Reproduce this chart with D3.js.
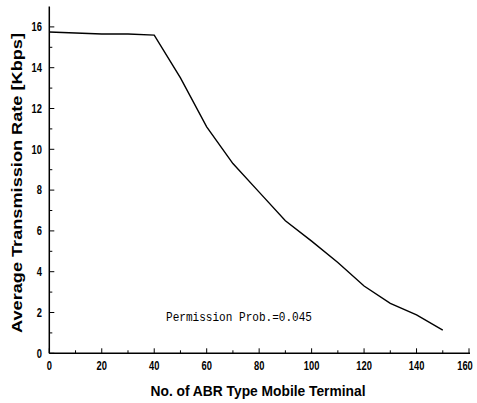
<!DOCTYPE html>
<html>
<head>
<meta charset="utf-8">
<script src="https://cdn.jsdelivr.net/npm/d3@7"></script>
<style>
  body { margin: 0; background: #fff; }
  svg { display: block; }
</style>
</head>
<body>
<svg id="svg" width="477" height="403"></svg>
<script>
const terminals = [0, 10, 20, 30, 40, 50, 60, 70, 80, 90, 100, 110, 120, 130, 140, 150];
const rates = [15.75, 15.7, 15.65, 15.65, 15.6, 13.5, 11.1, 9.3, 7.9, 6.5, 5.5, 4.45, 3.3, 2.45, 1.88, 1.14];
const xTicks = [0, 20, 40, 60, 80, 100, 120, 140, 160];
const yTicks = [0, 2, 4, 6, 8, 10, 12, 14, 16];
const note = "Permission Prob.=0.045";

const svg = d3.select("#svg");
const x = d3.scaleLinear().domain([0, 160]).range([49.3, 469]);
const y = d3.scaleLinear().domain([0, 17]).range([353.3, 6.5]);

const tickFont = "'Liberation Sans', Arial, sans-serif";
const digitW = 5.2; // condensed digits

// axes lines
svg.append("line")
  .attr("x1", x(0)).attr("x2", x(0))
  .attr("y1", y(17)).attr("y2", y(0))
  .attr("stroke", "#000").attr("stroke-width", 1.5);
svg.append("line")
  .attr("x1", x(0)).attr("x2", x(160) + 1)
  .attr("y1", y(0)).attr("y2", y(0))
  .attr("stroke", "#000").attr("stroke-width", 1.5);

// x ticks (inward)
svg.append("g")
  .selectAll("line")
  .data(d3.range(0, 161, 10))
  .join("line")
  .attr("x1", d => x(d)).attr("x2", d => x(d))
  .attr("y1", y(0))
  .attr("y2", d => y(0) - (d % 20 === 0 ? 5 : 3))
  .attr("stroke", "#000").attr("stroke-width", 1);

// last label sits against the right edge, so keep it inside the frame
svg.append("g")
  .selectAll("text")
  .data(xTicks)
  .join("text")
  .attr("x", d => Math.min(x(d), 465))
  .attr("y", 370)
  .attr("text-anchor", "middle")
  .attr("font-family", tickFont)
  .attr("font-weight", "bold")
  .attr("font-size", 12)
  .attr("textLength", d => String(d).length * digitW)
  .attr("lengthAdjust", "spacingAndGlyphs")
  .text(d => d);

// y ticks (inward)
svg.append("g")
  .selectAll("line")
  .data(d3.range(0, 17, 1))
  .join("line")
  .attr("x1", x(0))
  .attr("x2", d => x(0) + (d % 2 === 0 ? 5 : 3))
  .attr("y1", d => y(d)).attr("y2", d => y(d))
  .attr("stroke", "#000").attr("stroke-width", 1);

svg.append("g")
  .selectAll("text")
  .data(yTicks)
  .join("text")
  .attr("x", 42)
  .attr("y", d => y(d))
  .attr("dy", "0.36em")
  .attr("text-anchor", "end")
  .attr("font-family", tickFont)
  .attr("font-weight", "bold")
  .attr("font-size", 12)
  .attr("textLength", d => String(d).length * digitW)
  .attr("lengthAdjust", "spacingAndGlyphs")
  .text(d => d);

// data line
const line = d3.line()
  .x((d, i) => x(terminals[i]))
  .y(d => y(d));
svg.append("path")
  .datum(rates)
  .attr("d", line)
  .attr("fill", "none")
  .attr("stroke", "#000")
  .attr("stroke-width", 1.4);

// annotation
svg.append("text")
  .attr("x", 166)
  .attr("y", 321)
  .attr("font-family", "'Liberation Mono', 'DejaVu Sans Mono', monospace")
  .attr("font-size", 13)
  .attr("textLength", 146)
  .attr("lengthAdjust", "spacingAndGlyphs")
  .text(note);

// axis titles
svg.append("text")
  .attr("x", 258)
  .attr("y", 396)
  .attr("text-anchor", "middle")
  .attr("font-family", "'Liberation Sans', Arial, sans-serif")
  .attr("font-weight", "bold")
  .attr("font-size", 14)
  .attr("textLength", 215)
  .attr("lengthAdjust", "spacingAndGlyphs")
  .text("No. of ABR Type Mobile Terminal");

svg.append("text")
  .attr("transform", "translate(22, 183) rotate(-90)")
  .attr("text-anchor", "middle")
  .attr("font-family", "'Liberation Sans', Arial, sans-serif")
  .attr("font-weight", "bold")
  .attr("font-size", 15)
  .attr("textLength", 300)
  .attr("lengthAdjust", "spacingAndGlyphs")
  .text("Average Transmission Rate [Kbps]");
</script>
</body>
</html>
